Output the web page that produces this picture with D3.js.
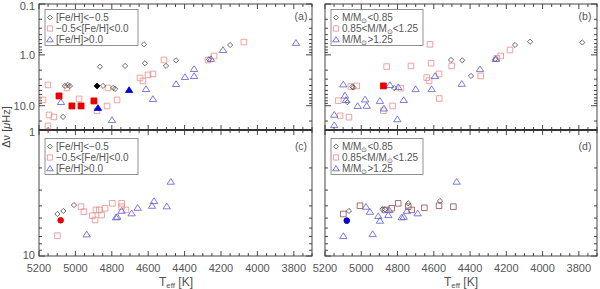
<!DOCTYPE html>
<html><head><meta charset="utf-8">
<script src="https://cdn.jsdelivr.net/npm/d3@7"></script>
<style>body{margin:0;background:#fff}svg{display:block}text{font-family:"Liberation Sans",Arial,sans-serif}</style>
</head><body><svg id="c" width="600" height="289"></svg>
<script>
// ---- data: [Teff (K), value] ----
// panel (a): by [Fe/H]
const aDiamond = [[4623,0.62],[4150,0.64],[4865,1.71],[4727,1.65],[4618,1.46],[4502,1.65],[4447,1.28],[4266,1.22],[5057,4.08],[5041,3.9],[5030,4.08],[4848,4.08],[4793,4.47],[4782,4.68],[5068,16.6]];
const aDiamondFill = [[4881,4.08]];
const aSquare = [[5151,3.9],[5046,4.47],[5178,7.69],[5145,15.2],[5118,16.6],[5151,24.9],[4980,7.35],[4881,12.6],[4826,10.1],[4821,4.47],[4771,7.69],[4645,2.84],[4629,3.26],[4601,2.48],[4574,2.37],[4513,1.26],[4271,1.26],[4238,1.05],[4074,0.56]];
const aSquareFill = [[5090,6.42],[5019,10.1],[4969,10.1],[4898,8.05]];
const aTriangle = [[5079,8.42],[4799,19.0],[4612,4.68],[4574,7.35],[4447,3.73],[4398,2.72],[4348,2.6],[4348,1.89],[4255,1.2],[4189,0.8],[3788,0.58]];
const aTriangleFill = [[4705,4.89],[4876,11.0]];
// panel (b): by mass
const bDiamond = [[5077,8.5],[5049,4.2],[5044,4.4],[4818,4.5],[4505,1.26],[4443,1.28],[4395,2.6],[4262,1.22],[4152,0.64],[4069,0.55],[3781,0.57]];
const bSquare = [[5127,7.95],[5117,15.8],[5068,16.8],[5057,4.2],[5025,4.08],[4878,12.5],[4860,1.7],[4827,10.1],[4781,4.5],[4726,1.65],[4639,2.8],[4626,3.2],[4621,0.62],[4615,1.46],[4571,2.37],[4570,7.2],[4501,1.65],[4341,2.6],[4253,1.17],[4231,1.05],[4180,0.8]];
const bSquareFill = [[4878,4.08]];
const bTriangle = [[5099,3.8],[5090,6.3],[5084,7.7],[5149,15],[5149,24],[5020,10.1],[4979,7.5],[4970,10],[4897,8],[4875,11.3],[4842,3.9],[4801,18.4],[4796,4.3],[4766,7.7],[4700,4.7],[4612,4.7],[4593,2.6],[4446,3.7],[4345,1.9],[4258,1.2]];
// panel (c): by [Fe/H]
const cDiamond = [[5099,4.64],[5066,4.39],[5008,3.94]];
const cCircleFill = [[5081,5.21]];
const cSquare = [[5099,6.9],[4969,4.06],[4953,4.45],[4907,4.79],[4892,5.18],[4887,4.31],[4869,4.31],[4856,4.73],[4837,4.18],[4797,3.82],[4746,3.82],[4746,4.06],[4722,4.31]];
const cTriangle = [[4938,6.73],[4777,4.93],[4770,4.88],[4746,4.37],[4691,4.58],[4658,4.14],[4579,3.99],[4568,3.66],[4498,4.03],[4476,2.57]];
// panel (d): by mass
const dDiamond = [[5068,4.39],[4884,4.26],[4869,4.26],[4741,3.82],[4566,3.66]];
const dCircleFill = [[5080,5.24]];
const dSquare = [[5099,4.64],[5007,3.99],[4869,4.31],[4832,4.18],[4796,3.82],[4741,4.06],[4722,4.31],[4652,4.14],[4571,3.99],[4492,4.06]];
const dTriangle = [[5099,6.94],[4974,4.06],[4952,4.45],[4937,6.69],[4906,4.82],[4897,5.24],[4851,4.73],[4846,4.31],[4777,4.93],[4766,4.88],[4748,4.37],[4689,4.58],[4474,2.57]];

const xTickLabels = ["5200","5000","4800","4600","4400","4200","4000","3800"];
const topTickLabels = ["0.1","1.0","10.0"];
const botTickLabels = ["1","10"];
const legendFeH = ["[Fe/H]<\u22120.5","\u22120.5<[Fe/H]<0.0","[Fe/H]>0.0"];
const legendMass = [["M/M","<0.85"],["0.85<M/M","<1.25"],["M/M",">1.25"]];

// ---- drawing ----
const svg = d3.select("#c");
const C = {dia:"#444", sq:"#e98b8b", tri:"#5a5ad0", sqDark:"#9a4848", red:"#e80000", blue:"#0000d0", blk:"#000"};
const xL = d3.scaleLinear().domain([5200,3700]).range([39,312]);
const xR = d3.scaleLinear().domain([5200,3700]).range([325,597]);
const yT = d3.scaleLog().domain([0.1,30]).range([4,130]);
const yB = d3.scaleLog().domain([1,10]).range([130,256]);

function shape(kind, s){
  if(kind==="sq") return `M${-s},${-s}h${2*s}v${2*s}h${-2*s}Z`;
  if(kind==="dia") return `M0,${-s}L${s},0L0,${s}L${-s},0Z`;
  if(kind==="tri") return `M0,${-s}L${s*1.15},${s*0.8}L${-s*1.15},${s*0.8}Z`;
  return null;
}
function pts(x,y,data,kind,color,filled,s){
  const g = svg.append("g");
  if(kind==="circle"){
    g.selectAll("circle").data(data).join("circle")
     .attr("cx",d=>x(d[0])).attr("cy",d=>y(d[1])).attr("r",s)
     .attr("fill",color).attr("stroke",color);
    return;
  }
  g.selectAll("path").data(data).join("path")
   .attr("d",shape(kind,s))
   .attr("transform",d=>`translate(${x(d[0])},${y(d[1])})`)
   .attr("fill",filled?color:"none").attr("stroke",color).attr("stroke-width",0.8);
}
function frame(x,y,bottomLabels){
  const [x0,x1]=x.range(), [y0,y1]=y.range();
  const g = svg.append("g").attr("stroke","#333").attr("stroke-width",0.9);
  g.append("rect").attr("x",x0).attr("y",y0).attr("width",x1-x0).attr("height",y1-y0).attr("fill","none");
  d3.range(3700,5201,50).forEach(t=>{
    const major = t%200===0, L = major?5:3, px=x(t);
    g.append("line").attr("x1",px).attr("x2",px).attr("y1",y1).attr("y2",y1-L);
    g.append("line").attr("x1",px).attr("x2",px).attr("y1",y0).attr("y2",y0+L);
  });
  y.ticks().forEach(v=>{
    const lg=Math.log10(v), major=Math.abs(lg-Math.round(lg))<1e-9, L=major?6:3, py=y(v);
    g.append("line").attr("x1",x0).attr("x2",x0+L).attr("y1",py).attr("y2",py);
    g.append("line").attr("x1",x1).attr("x2",x1-L).attr("y1",py).attr("y2",py);
  });
  if(bottomLabels){
    xTickLabels.forEach(s=>{
      svg.append("text").attr("x",x(+s)).attr("y",y1+16).attr("text-anchor","middle")
        .attr("font-size",11).attr("fill","#555").text(s);
    });
  }
}
frame(xL,yT,false); frame(xR,yT,false);
frame(xL,yB,true); frame(xR,yB,true);
svg.append("line").attr("x1",39).attr("x2",312).attr("y1",130).attr("y2",130).attr("stroke","#333").attr("stroke-width",2);
svg.append("line").attr("x1",325).attr("x2",597).attr("y1",130).attr("y2",130).attr("stroke","#333").attr("stroke-width",2);

// y tick labels (left panels only)
topTickLabels.forEach(s=>{
  const v = parseFloat(s);
  svg.append("text").attr("x",35).attr("y",Math.max(yT(v),6)+4).attr("text-anchor","end")
    .attr("font-size",11).attr("fill","#555").text(s);
});
botTickLabels.forEach((s,i)=>{
  const v = parseFloat(s);
  svg.append("text").attr("x",35).attr("y",(i===0?yB(v)+2:yB(v)-1)+4).attr("text-anchor","end")
    .attr("font-size",11).attr("fill","#555").text(s);
});

// axis titles
const yt = svg.append("text").attr("transform","translate(10,127) rotate(-90)").attr("text-anchor","middle")
  .attr("font-size",11).attr("fill","#444");
yt.append("tspan").text("\u0394\u03bd [");
yt.append("tspan").attr("font-style","italic").text("\u03bc");
yt.append("tspan").text("Hz]");
[176,461].forEach(cx=>{
  const t = svg.append("text").attr("x",cx).attr("y",286).attr("text-anchor","middle").attr("font-size",12).attr("fill","#555");
  t.append("tspan").text("T");
  t.append("tspan").attr("font-size",8).attr("dy",2).text("eff");
  t.append("tspan").attr("dy",-2).text(" [K]");
});

// panel labels
[["(a)",301,20],["(b)",585,20],["(c)",301,150],["(d)",585,150]].forEach(([s,x,y])=>{
  svg.append("text").attr("x",x).attr("y",y).attr("text-anchor","middle").attr("font-size",10.5).attr("fill","#555").text(s);
});

// points
pts(xL,yT,aSquare,"sq",C.sq,false,2.8);
pts(xL,yT,aDiamond,"dia",C.dia,false,2.6);
pts(xL,yT,aTriangle,"tri",C.tri,false,3.2);
pts(xL,yT,aSquareFill,"sq",C.red,true,3);
pts(xL,yT,aDiamondFill,"dia",C.blk,true,3);
pts(xL,yT,aTriangleFill,"tri",C.blue,true,3.2);

pts(xR,yT,bSquare,"sq",C.sq,false,2.8);
pts(xR,yT,bDiamond,"dia",C.dia,false,2.6);
pts(xR,yT,bTriangle,"tri",C.tri,false,3.2);
pts(xR,yT,bSquareFill,"sq",C.red,true,3);

pts(xL,yB,cSquare,"sq",C.sq,false,2.8);
pts(xL,yB,cDiamond,"dia",C.dia,false,2.6);
pts(xL,yB,cTriangle,"tri",C.tri,false,3.2);
pts(xL,yB,cCircleFill,"circle",C.red,true,2.8);

pts(xR,yB,dSquare,"sq",C.sqDark,false,2.8);
pts(xR,yB,dDiamond,"dia",C.dia,false,2.6);
pts(xR,yB,dTriangle,"tri",C.tri,false,3.2);
pts(xR,yB,dCircleFill,"circle",C.blue,true,2.8);

// legends
function legend(x0,y0,w,rows,mass){
  svg.append("rect").attr("x",x0).attr("y",y0).attr("width",w).attr("height",36)
    .attr("fill","#fff").attr("stroke","#777").attr("stroke-width",0.8);
  const kinds=[["dia",C.dia,2.4],["sq",C.sq,2.6],["tri",C.tri,2.9]];
  rows.forEach((r,i)=>{
    const cy=y0+8+i*11;
    svg.append("path").attr("d",shape(kinds[i][0],kinds[i][2])).attr("transform",`translate(${x0+5},${cy})`)
      .attr("fill","none").attr("stroke",kinds[i][1]).attr("stroke-width",0.8);
    const t=svg.append("text").attr("x",x0+11).attr("y",cy+3.5).attr("font-size",10).attr("fill","#555");
    if(!mass){ t.text(r); }
    else {
      t.append("tspan").text(r[0]);
      t.append("tspan").attr("font-size",6.5).attr("dy",2).text("\u2299");
      t.append("tspan").attr("dy",-2).text(r[1]);
    }
  });
}
legend(45,9.5,93,legendFeH,false);
legend(331,9.5,92,legendMass,true);
legend(45,138.5,93,legendFeH,false);
legend(331,138.5,92,legendMass,true);
</script>
</body></html>
